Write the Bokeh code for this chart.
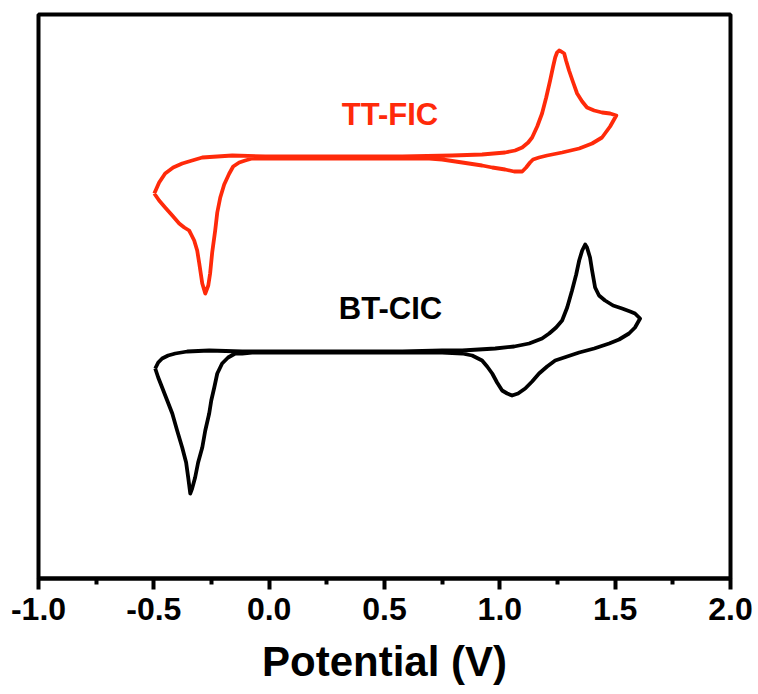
from bokeh.plotting import figure
from bokeh.models import Range1d, FixedTicker, Label
from bokeh.embed import file_html
from bokeh.resources import INLINE

# ---- data: potential (V) and current (a.u.) ----
tt_fwd_v = [-0.498, -0.477, -0.451, -0.416, -0.377, -0.334, -0.290, -0.225, -0.160, -0.017,
            0.143, 0.360, 0.577, 0.793, 0.923, 1.023, 1.066, 1.097, 1.123, 1.140, 1.162, 1.183,
            1.201, 1.218, 1.231, 1.240, 1.248, 1.257, 1.266, 1.279, 1.287, 1.300, 1.318, 1.335,
            1.357, 1.378, 1.409, 1.443, 1.478, 1.505]
tt_fwd_i = [38.5, 39.6, 40.5, 41.1, 41.5, 41.8, 42.1, 42.2, 42.3, 42.2,
            42.2, 42.2, 42.2, 42.3, 42.4, 42.6, 42.8, 43.1, 43.6, 44.1, 45.2, 46.5,
            48.1, 49.8, 51.2, 52.1, 52.6, 52.8, 52.7, 52.5, 51.8, 50.8, 49.6, 48.5,
            47.7, 47.1, 46.8, 46.6, 46.5, 46.3]
tt_rev_v = [1.505, 1.478, 1.443, 1.400, 1.344, 1.270, 1.205, 1.170, 1.144, 1.131, 1.114, 1.097,
            1.062, 1.023, 0.967, 0.923, 0.837, 0.750, 0.694, 0.577, 0.360, 0.143, -0.030,
            -0.074, -0.104, -0.130, -0.156, -0.173, -0.195, -0.212, -0.225, -0.234, -0.247,
            -0.256, -0.264, -0.277, -0.290, -0.303, -0.312, -0.325, -0.338, -0.347, -0.368,
            -0.390, -0.420, -0.451, -0.477, -0.498]
tt_rev_i = [46.3, 45.2, 44.1, 43.5, 43.0, 42.6, 42.3, 42.1, 41.9, 41.6, 41.1, 40.7,
            40.7, 40.9, 41.1, 41.3, 41.6, 41.9, 42.0, 42.0, 42.0, 42.0, 42.0,
            42.0, 41.8, 41.6, 41.2, 40.5, 39.4, 38.1, 36.6, 34.8, 32.6,
            30.5, 29.3, 28.5, 29.5, 31.5, 32.8, 33.8, 34.4, 34.8, 35.1,
            35.5, 36.3, 37.1, 37.8, 38.5]

bt_fwd_v = [-0.494, -0.481, -0.464, -0.438, -0.407, -0.355, -0.260, -0.117, 0.143, 0.360,
            0.577, 0.750, 0.837, 0.980, 1.062, 1.127, 1.183, 1.214, 1.244, 1.270, 1.292,
            1.313, 1.331, 1.344, 1.357, 1.370, 1.378, 1.391, 1.400, 1.413, 1.430, 1.456,
            1.491, 1.530, 1.565, 1.586, 1.608]
bt_fwd_i = [21.0, 21.6, 22.0, 22.3, 22.5, 22.7, 22.8, 22.7, 22.7, 22.7,
            22.7, 22.8, 22.8, 23.0, 23.2, 23.5, 24.0, 24.5, 25.1, 25.8, 27.1,
            28.8, 30.4, 31.8, 32.8, 33.4, 33.1, 32.1, 30.8, 29.1, 28.3, 27.8,
            27.3, 27.0, 26.7, 26.5, 26.0]
bt_rev_v = [1.608, 1.586, 1.560, 1.517, 1.474, 1.409, 1.344, 1.292, 1.240, 1.205, 1.170,
            1.140, 1.110, 1.079, 1.053, 1.032, 1.010, 0.988, 0.967, 0.945, 0.923, 0.880,
            0.837, 0.750, 0.577, 0.360, 0.143, -0.074, -0.117, -0.147, -0.178, -0.204,
            -0.225, -0.238, -0.251, -0.260, -0.277, -0.290, -0.308, -0.321, -0.334, -0.342,
            -0.351, -0.360, -0.377, -0.399, -0.420, -0.442, -0.464, -0.481, -0.494]
bt_rev_i = [26.0, 25.1, 24.5, 23.9, 23.5, 23.0, 22.6, 22.2, 21.8, 21.2, 20.5,
            19.7, 19.0, 18.5, 18.3, 18.5, 18.8, 19.6, 20.5, 21.2, 21.8, 22.3,
            22.5, 22.6, 22.6, 22.6, 22.6, 22.6, 22.5, 22.5, 22.1, 21.5,
            20.5, 19.1, 17.8, 16.5, 14.8, 13.1, 11.6, 10.1, 9.0, 8.5,
            10.1, 11.6, 13.1, 14.8, 16.5, 17.8, 19.1, 20.1, 21.0]

tick_values = [-1.0, -0.5, 0.0, 0.5, 1.0, 1.5, 2.0]
tick_labels = ["-1.0", "-0.5", "0.0", "0.5", "1.0", "1.5", "2.0"]
minor_values = [-0.75, -0.25, 0.25, 0.75, 1.25, 1.75]

labels = ["TT-FIC", "BT-CIC"]
label_v = [0.524, 0.526]
label_i = [46.4, 27.0]

RED = "#ff2a0a"
BLACK = "#000000"
FONT = "Liberation Sans"

p = figure(width=758, height=694, output_backend="svg", toolbar_location=None,
           x_range=Range1d(-1.0, 2.0), y_range=Range1d(0, 56.4),
           min_border_left=38, min_border_right=28, min_border_top=14, min_border_bottom=116)
p.background_fill_color = "white"
p.border_fill_color = "white"
p.grid.visible = False
p.yaxis.visible = False
p.outline_line_color = "black"
p.outline_line_width = 4
p.outline_line_alpha = 1.0

p.line(tt_fwd_v + tt_rev_v, tt_fwd_i + tt_rev_i, line_color=RED, line_width=3.8, line_join="round")
p.line(bt_fwd_v + bt_rev_v, bt_fwd_i + bt_rev_i, line_color=BLACK, line_width=3.8, line_join="round")

for txt, xv, yv, col in zip(labels, label_v, label_i, [RED, BLACK]):
    p.add_layout(Label(x=xv, y=yv, text=txt, text_color=col, text_font=FONT,
                       text_font_style="bold", text_font_size="31px",
                       text_align="center", text_baseline="middle"))

ax = p.xaxis[0]
ax.ticker = FixedTicker(ticks=tick_values, minor_ticks=minor_values)
ax.major_label_overrides = {v: s for v, s in zip(tick_values, tick_labels)}
ax.axis_line_width = 4
ax.major_tick_line_width = 4
ax.minor_tick_line_width = 4
ax.major_tick_in = 0
ax.major_tick_out = 11
ax.minor_tick_in = 0
ax.minor_tick_out = 6
ax.major_label_text_font = FONT
ax.major_label_text_font_style = "bold"
ax.major_label_text_font_size = "32px"
ax.major_label_text_color = "black"
ax.major_label_standoff = 8
ax.axis_label = "Potential (V)"
ax.axis_label_text_font = FONT
ax.axis_label_text_font_style = "bold"
ax.axis_label_text_font_size = "42px"
ax.axis_label_text_color = "black"
ax.axis_label_standoff = 15

open("out.html", "w").write(file_html(p, INLINE))
